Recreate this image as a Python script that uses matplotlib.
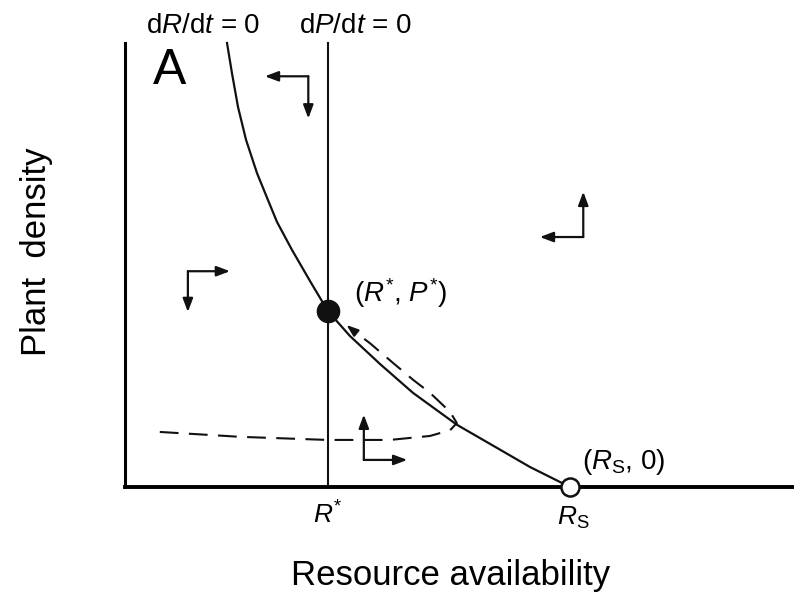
import matplotlib.pyplot as plt

plt.rcParams['font.family'] = ['Liberation Sans', 'DejaVu Sans']
plt.rcParams['mathtext.fontset'] = 'custom'
plt.rcParams['mathtext.rm'] = 'Liberation Sans'
plt.rcParams['mathtext.it'] = 'Liberation Sans:italic'

# resource isocline dR/dt = 0
iso_r = [1.525, 1.599, 1.689, 1.809, 1.973, 2.138, 2.272, 2.496, 2.765, 3.034,
         3.363, 3.812, 4.305, 4.963, 5.561, 6.054, 6.652]
iso_p = [10.0, 9.32, 8.56, 7.82, 7.07, 6.46, 5.97, 5.34, 4.64, 3.96,
         3.40, 2.77, 2.12, 1.40, 0.88, 0.45, 0.0]

r_star = 3.03
p_star = 3.96
r_s = 6.65

# dashed trajectory towards equilibrium
traj_r = [0.52, 1.72, 3.03, 3.96, 4.56, 4.86, 4.96, 4.86, 4.56, 4.31, 4.01, 3.66, 3.44]
traj_p = [1.24, 1.13, 1.06, 1.06, 1.15, 1.28, 1.44, 1.69, 2.12, 2.41, 2.79, 3.24, 3.49]
traj_tip = (3.31, 3.65)

# direction arrows: corner, horizontal tip, vertical tip
corners = [(2.74, 9.25), (0.94, 4.86), (6.85, 5.63), (3.57, 0.61)]
h_tips = [2.09, 1.57, 6.20, 4.22]
v_tips = [8.30, 3.94, 6.65, 1.63]

fig = plt.figure(figsize=(7.94, 5.95), dpi=100)
ax = fig.add_axes([125 / 794, 108 / 595, 669 / 794, 444 / 595])
ax.set_xlim(0, 10)
ax.set_ylim(0, 10)
ax.spines['top'].set_visible(False)
ax.spines['right'].set_visible(False)
ax.spines['left'].set_linewidth(2.2)
ax.spines['bottom'].set_linewidth(2.8)
ax.set_xticks([])
ax.set_yticks([])
ax.patch.set_alpha(0)

k = '#111111'
ax.plot(iso_r, iso_p, color=k, lw=1.6, clip_on=False, solid_joinstyle='round')
ax.plot([r_star, r_star], [0, 10], color=k, lw=1.5, clip_on=False)

ax.plot(traj_r, traj_p, color=k, lw=1.5, ls=(0, (9, 5)))
ax.annotate('', xy=traj_tip, xytext=(traj_r[-1], traj_p[-1]),
            arrowprops=dict(arrowstyle='-|>,head_length=0.7,head_width=0.25',
                            color=k, lw=1.5, shrinkA=0, shrinkB=0))

for (cx, cy), hx, vy in zip(corners, h_tips, v_tips):
    for tip in [(hx, cy), (cx, vy)]:
        ax.annotate('', xy=tip, xytext=(cx, cy),
                    arrowprops=dict(arrowstyle='-|>,head_length=0.8,head_width=0.3',
                                    color=k, lw=1.6, shrinkA=0, shrinkB=0))

ax.plot([r_star], [p_star], 'o', ms=16, color=k, zorder=5)
ax.plot([r_s], [0], 'o', ms=13, mfc='white', mec=k, mew=1.8, zorder=5, clip_on=False)

ax.text(170, 524, 'A', transform=None, fontsize=36, ha='center', va='center')
ax.text(203, 569, r'd$\it{R}$/d$\it{t}$ = 0', transform=None, fontsize=20, ha='center', va='center')
ax.text(355, 569, r'd$\it{P}$/d$\it{t}$ = 0', transform=None, fontsize=20, ha='center', va='center')
ax.text(401, 302, r'($\it{R}^{*}$, $\it{P}^{*}$)', transform=None, fontsize=20, ha='center', va='center')
ax.text(624, 133, r'($\it{R}_{\rm{S}}$, 0)', transform=None, fontsize=20, ha='center', va='center')
ax.text(328, 80, r'$\it{R}^{*}$', transform=None, fontsize=19, ha='center', va='center')
ax.text(573, 77, r'$\it{R}_{\rm{S}}$', transform=None, fontsize=19, ha='center', va='center')

fig.text(451 / 794, 1 - 575 / 595, 'Resource availability', fontsize=25, ha='center', va='center')
fig.text(37 / 794, 1 - 252 / 595, 'Plant  density', fontsize=25, ha='center', va='center', rotation=90)

fig.savefig('out.png', dpi=100)
